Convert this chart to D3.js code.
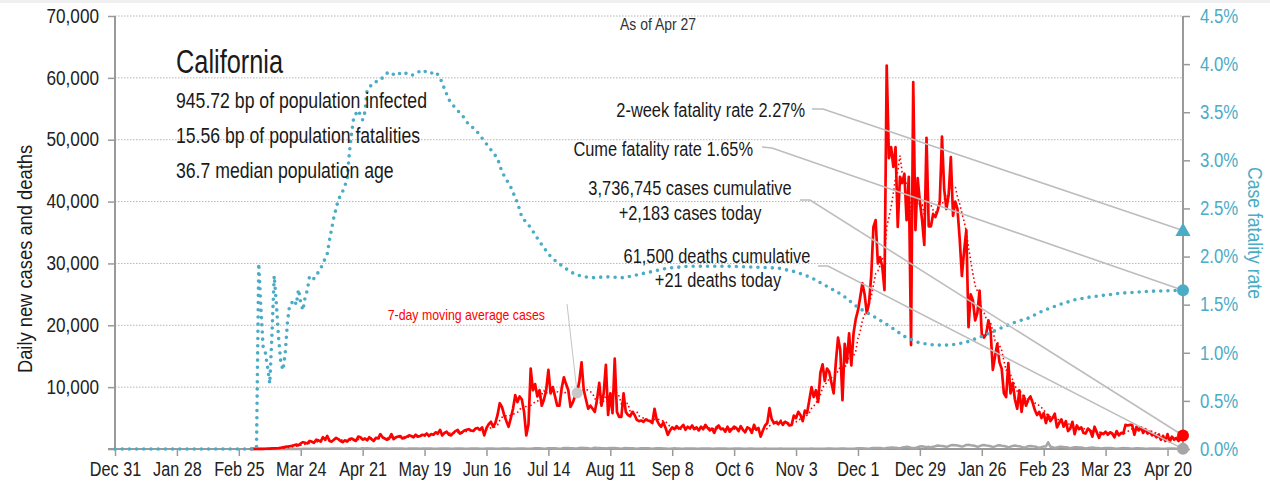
<!DOCTYPE html>
<html>
<head>
<meta charset="utf-8">
<script src="https://cdn.jsdelivr.net/npm/d3@7"></script>
<style>
	body { margin: 0; background: #fff; }
	svg { display: block; font-family: "Liberation Sans", Arial, sans-serif; }
</style>
</head>
<body>
<script>
// chart values
var stateName = 'California';
var statLines = ['945.72 bp of population infected', '15.56 bp of population fatalities', '36.7 median population age'];
var asOfLabel = 'As of Apr 27';
var avgLabel = '7-day moving average cases';
var leftTitle = 'Daily new cases and deaths';
var rightTitle = 'Case fatality rate';

var twoWeekRate = 2.27;
var cumeRate = 1.65;
var cumCases = 3736745;
var cumDeaths = 61500;

var caseTicks = [0, 10000, 20000, 30000, 40000, 50000, 60000, 70000];
var rateTicks = [0, 0.5, 1, 1.5, 2, 2.5, 3, 3.5, 4, 4.5];

var casesStart = '2020-03-01';
// daily new cases, one row per week starting Sundays from Mar 1 2020
var casesDaily = [
	3, 10, 20, 15, 30, 20, 25,
	40, 50, 60, 90, 100, 120, 150,
	200, 250, 350, 400, 450, 500, 600,
	700, 600, 900, 1100, 1000, 900, 1300,
	1200, 1000, 1500, 1400, 1200, 1900, 1500,
	2100, 1300, 1200, 1500, 1800, 1600, 1300,
	1100, 1400, 1200, 1600, 1700, 1500, 1300,
	2000, 1900, 1500, 1700, 1400, 1900, 1600,
	1300, 1800, 1700, 2400, 1900, 1700, 1500,
	1700, 2400, 1600, 1900, 2000, 2100, 1700,
	1800, 2000, 2200, 2100, 1900, 2300, 2000,
	2100, 2300, 2200, 2500, 2100, 2400, 2300,
	2700, 2500, 3100, 2200, 2600, 2800, 2300,
	2200, 2600, 2900, 3100, 2500, 2700, 3000,
	3100, 3200, 3000, 2900, 3300, 3400, 3100,
	3500, 2200, 3400, 4000, 4400, 3600, 4200,
	5500, 7400, 6800, 5500, 4500, 3600, 5000,
	6500, 8700, 7600, 8500, 8000, 6000, 2200,
	4000, 13000, 9500, 10500, 8500, 9500, 7000,
	8000, 9500, 12800, 9000, 10000, 8500, 7000,
	7000, 9800, 11600, 10500, 9500, 6800, 7500,
	8500, 9000, 11000, 14000, 9500, 8000, 6500,
	7000, 6500, 6000, 8000, 10700, 7000, 9000,
	13600, 5500, 9000, 5800, 14600, 6000, 5200,
	5200, 9000, 6000, 5500, 5300, 6000, 5500,
	4700, 4500, 4600, 4400, 4800, 4600, 4500,
	4200, 6500, 4700, 4000, 3600, 4300, 3400,
	2300, 3000, 3500, 3200, 3700, 3300, 3500,
	3900, 3100, 3600, 3300, 3800, 3200, 3500,
	3000, 3600, 3200, 3900, 3400, 3000, 3300,
	2600, 3500, 3800, 3200, 3300, 2800, 3600,
	2800, 3200, 3600, 3400, 2900, 3700, 3100,
	2700, 3500, 3300, 2600, 3900, 3100, 3400,
	2000, 3000, 3800, 4200, 6600, 4800, 4200,
	4300, 4000, 4500, 3900, 4400, 4200, 3800,
	3900, 5400, 5000, 6000, 5500, 4500, 6200,
	5800, 7900, 10000, 8400, 9500, 7600, 12300,
	13700, 11000, 13000, 12500, 10700, 9000, 14000,
	18000, 16000, 7900, 17000, 14000, 18700, 13500,
	18700, 21000, 22400, 24500, 26800, 25000, 22000,
	23600, 28000, 35900, 37000, 30000, 31000, 29500,
	25700, 62000, 47000, 48800, 45600, 48800, 35900,
	44000, 43000, 44500, 37000, 44000, 16800, 59300,
	35400, 43800, 40000, 37000, 33000, 50300, 36000,
	36000, 38000, 37500, 38500, 40000, 50500, 42000,
	38800, 41000, 47200, 37700, 40000, 38800, 34000,
	28000, 32000, 35400, 19700, 25000, 24000, 20800,
	22000, 25600, 18600, 18000, 18600, 20800, 19000,
	12800, 15000, 17000, 14000, 13000, 9000, 8400,
	13900, 9000, 10700, 8000, 6500, 9500, 6000,
	8600, 7000, 8000, 8500, 7500, 6300, 5500,
	6000, 5000, 5800, 4200, 5500, 4500, 5000,
	5700, 3500, 4200, 4800, 3600, 4500, 2900,
	3300, 4400, 2400, 3800, 3200, 3500, 2600,
	2500, 3300, 3000, 2000, 3600, 2700, 1800,
	2600, 2400, 2800, 2300, 2700, 2500, 1900,
	2900, 2200, 2600, 2500, 3900, 3800, 3900,
	3900, 2300, 3600, 3000, 3500, 2600, 3200,
	2500, 2800, 2200, 2400, 1900, 2300, 1500,
	2100, 1300, 2400, 1200, 2000, 1500, 1800,
	1300, 1700, 2183
];

// daily new deaths, same days as casesDaily
var deathsDaily = [
	0, 0, 0, 1, 0, 1, 0,
	1, 0, 2, 1, 1, 2, 3,
	3, 5, 6, 8, 5, 7, 10,
	12, 20, 18, 25, 30, 28, 35,
	40, 25, 45, 50, 48, 55, 42,
	40, 60, 70, 75, 90, 85, 70,
	55, 70, 95, 110, 95, 90, 80,
	60, 75, 110, 100, 115, 95, 85,
	55, 70, 95, 80, 90, 85, 70,
	45, 65, 85, 90, 80, 95, 75,
	50, 60, 80, 90, 85, 80, 65,
	45, 70, 80, 90, 85, 75, 60,
	40, 30, 65, 90, 80, 85, 70,
	45, 60, 75, 85, 80, 70, 60,
	35, 55, 70, 75, 80, 65, 50,
	40, 55, 70, 75, 80, 65, 45,
	35, 50, 80, 70, 65, 75, 45,
	30, 55, 85, 90, 95, 70, 30,
	35, 60, 100, 120, 130, 110, 80,
	50, 70, 130, 140, 120, 115, 95,
	60, 90, 150, 160, 155, 140, 110,
	70, 100, 180, 190, 170, 150, 120,
	60, 110, 200, 160, 180, 140, 110,
	70, 120, 170, 150, 160, 140, 100,
	60, 110, 150, 140, 130, 120, 90,
	55, 95, 140, 130, 120, 110, 80,
	50, 90, 130, 110, 110, 100, 70,
	30, 40, 100, 110, 100, 90, 60,
	40, 80, 100, 95, 90, 85, 55,
	35, 70, 90, 85, 80, 75, 50,
	30, 65, 85, 80, 75, 70, 45,
	30, 60, 80, 75, 70, 65, 40,
	25, 55, 70, 65, 60, 60, 40,
	25, 50, 65, 60, 55, 55, 35,
	25, 50, 65, 55, 55, 50, 35,
	25, 50, 60, 55, 50, 45, 30,
	25, 55, 65, 60, 55, 50, 35,
	30, 60, 75, 70, 65, 60, 40,
	35, 70, 90, 85, 60, 50, 55,
	40, 90, 110, 120, 110, 100, 70,
	50, 110, 150, 180, 160, 150, 110,
	80, 160, 220, 250, 230, 220, 150,
	120, 230, 300, 350, 310, 200, 180,
	150, 280, 400, 430, 380, 300, 350,
	250, 380, 450, 560, 520, 500, 450,
	350, 450, 600, 650, 620, 550, 480,
	380, 480, 650, 700, 620, 580, 500,
	350, 450, 600, 650, 580, 520, 450,
	300, 420, 550, 600, 520, 480, 400,
	250, 380, 500, 550, 480, 450, 350,
	200, 300, 450, 500, 430, 400, 300,
	180, 300, 420, 400, 1100, 380, 280,
	150, 250, 350, 380, 330, 300, 230,
	120, 200, 280, 300, 260, 230, 180,
	90, 150, 220, 240, 200, 180, 130,
	70, 120, 170, 180, 160, 140, 100,
	50, 100, 130, 150, 130, 110, 80,
	40, 80, 110, 120, 100, 90, 60,
	35, 70, 90, 100, 90, 80, 50,
	30, 60, 80, 85, 75, 70, 40,
	25, 40, 21
];

// case fatality rate (%), read at these dates
var cfrDates = [
	'2019-12-31', '2020-03-04', '2020-03-05', '2020-03-06', '2020-03-07', '2020-03-08', '2020-03-09',
	'2020-03-10', '2020-03-11', '2020-03-12', '2020-03-13', '2020-03-14', '2020-03-15', '2020-03-16',
	'2020-03-17', '2020-03-18', '2020-03-19', '2020-03-20', '2020-03-21', '2020-03-22', '2020-03-23',
	'2020-03-24', '2020-03-25', '2020-03-26', '2020-03-27', '2020-03-28', '2020-03-29', '2020-03-30',
	'2020-03-31', '2020-04-01', '2020-04-02', '2020-04-03', '2020-04-04', '2020-04-05', '2020-04-06',
	'2020-04-08', '2020-04-10', '2020-04-12', '2020-04-14', '2020-04-15', '2020-04-16', '2020-04-17',
	'2020-04-19', '2020-04-21', '2020-04-22', '2020-04-23', '2020-04-26', '2020-04-29', '2020-05-01',
	'2020-05-03', '2020-05-06', '2020-05-09', '2020-05-13', '2020-05-18', '2020-05-21', '2020-05-24',
	'2020-05-26', '2020-05-27', '2020-05-30', '2020-06-02', '2020-06-05', '2020-06-08', '2020-06-11',
	'2020-06-14', '2020-06-18', '2020-06-21', '2020-06-23', '2020-06-27', '2020-06-30', '2020-07-02',
	'2020-07-06', '2020-07-09', '2020-07-12', '2020-07-15', '2020-07-18', '2020-07-21', '2020-07-24',
	'2020-07-27', '2020-07-30', '2020-08-03', '2020-08-09', '2020-08-17', '2020-08-23', '2020-08-29',
	'2020-09-06', '2020-09-16', '2020-10-01', '2020-10-16', '2020-10-26', '2020-11-03', '2020-11-10',
	'2020-11-17', '2020-11-24', '2020-12-01', '2020-12-08', '2020-12-15', '2020-12-22', '2020-12-29',
	'2021-01-05', '2021-01-12', '2021-01-19', '2021-01-26', '2021-02-02', '2021-02-09', '2021-02-16',
	'2021-02-23', '2021-03-02', '2021-03-09', '2021-03-16', '2021-03-23', '2021-03-30', '2021-04-06',
	'2021-04-13', '2021-04-20', '2021-04-27'
];
var cfrValues = [
	0, 0, 1.93, 1.45, 1.06, 1.00, 0.85,
	0.68, 1.20, 1.80, 1.50, 1.15, 0.90, 0.82,
	1.00, 1.32, 1.50, 1.52, 1.55, 1.50, 1.66,
	1.52, 1.44, 1.58, 1.65, 1.80, 1.78, 1.77,
	1.80, 1.84, 1.88, 1.92, 1.98, 2.03, 2.17,
	2.41, 2.59, 2.68, 2.80, 3.08, 3.28, 3.45,
	3.52, 3.42, 3.50, 3.73, 3.81, 3.83, 3.89,
	3.92, 3.88, 3.92, 3.88, 3.94, 3.90, 3.92,
	3.86, 3.80, 3.63, 3.54, 3.47, 3.37, 3.32,
	3.23, 3.11, 3.02, 2.88, 2.72, 2.56, 2.41,
	2.30, 2.19, 2.09, 2.00, 1.94, 1.89, 1.84,
	1.81, 1.79, 1.78, 1.79, 1.78, 1.81, 1.84,
	1.88, 1.90, 1.90, 1.89, 1.88, 1.84, 1.78,
	1.69, 1.60, 1.47, 1.38, 1.28, 1.17, 1.10,
	1.08, 1.08, 1.11, 1.17, 1.24, 1.31, 1.36,
	1.44, 1.50, 1.55, 1.58, 1.60, 1.62, 1.63,
	1.64, 1.645, 1.65
];

var width = 1270;
var height = 491;
var margin = { 'top': 16, 'bottom': 42, 'left': 115, 'right': 87 };
var blue = '#4bacc6';
var red = '#ff0000';

var parseDay = d3.timeParse('%Y-%m-%d');

// squeeze text horizontally to mimic the condensed face of the original
function squeeze(sel, k) {
	sel.each(function() {
		var len = this.getComputedTextLength();
		d3.select(this).attr('textLength', len * k).attr('lengthAdjust', 'spacingAndGlyphs');
	});
}

var svg = d3.select('body').append('svg')
	.attr('width', width)
	.attr('height', height);

svg.append('rect').attr('x', 0).attr('y', 0).attr('width', width).attr('height', 3).attr('fill', '#efefef');

// building the series
var day0 = parseDay(casesStart);
var cases = casesDaily.map(function(v, i) { return { time: d3.timeDay.offset(day0, i), value: v }; });
var deaths = deathsDaily.map(function(v, i) { return { time: d3.timeDay.offset(day0, i), value: v }; });
var avg = cases.map(function(d, i) {
	var win = casesDaily.slice(Math.max(0, i - 6), i + 1);
	return { time: d.time, value: d3.mean(win) };
});
var cfr = cfrDates.map(function(s, i) { return { time: parseDay(s), value: cfrValues[i] }; });

var startTime = parseDay('2019-12-31');
var endTime = parseDay('2021-04-27');

// scales
var scaleTime = d3.scaleTime()
	.domain([startTime, endTime])
	.range([margin.left, width - margin.right]);
var scaleCases = d3.scaleLinear()
	.domain([0, 70000])
	.range([height - margin.bottom, margin.top]);
var scaleRate = d3.scaleLinear()
	.domain([0, 4.5])
	.range([height - margin.bottom, margin.top]);

var x0 = scaleTime.range()[0], x1 = scaleTime.range()[1];

// dotted grid lines
svg.append('g').selectAll('line')
	.data(caseTicks.filter(function(d) { return d > 0; }))
	.enter().append('line')
	.attr('x1', x0).attr('x2', x1)
	.attr('y1', function(d) { return scaleCases(d); })
	.attr('y2', function(d) { return scaleCases(d); })
	.attr('stroke', '#b4b4b4')
	.attr('stroke-width', 1)
	.attr('stroke-dasharray', '1.5,1.5');

// axes
var dateTicks = d3.timeDay.range(startTime, d3.timeDay.offset(endTime, 1), 28);

var xAxisCall = d3.axisBottom(scaleTime)
	.tickValues(dateTicks)
	.tickFormat(d3.timeFormat('%b %-d'))
	.tickSize(7)
	.tickPadding(6);
var yAxisCall = d3.axisLeft(scaleCases)
	.tickValues(caseTicks)
	.tickFormat(function(d) { return d === 0 ? '' : d3.format(',')(d); })
	.tickSize(7)
	.tickPadding(9);
var rAxisCall = d3.axisRight(scaleRate)
	.tickValues(rateTicks)
	.tickFormat(function(d) { return d.toFixed(1) + '%'; })
	.tickSize(7)
	.tickPadding(10);

var gx = svg.append('g')
	.attr('id', 'x-axis')
	.attr('transform', 'translate(0,' + scaleCases(0) + ')')
	.call(xAxisCall);
var gy = svg.append('g')
	.attr('id', 'y-axis')
	.attr('transform', 'translate(' + x0 + ',0)')
	.call(yAxisCall);
var gr = svg.append('g')
	.attr('id', 'r-axis')
	.attr('transform', 'translate(' + x1 + ',0)')
	.call(rAxisCall);

[gx, gy, gr].forEach(function(g) {
	g.select('.domain').attr('stroke', '#9a9a9a').attr('stroke-width', 2);
	g.selectAll('.tick line').attr('stroke', '#9a9a9a').attr('stroke-width', 1.5);
	g.selectAll('.tick text').style('font-size', '19.5px').style('font-family', '"Liberation Sans", Arial, sans-serif');
});
gx.select('.domain').attr('d', 'M' + (x0 - 7) + ',0H' + x1);
gx.selectAll('.tick text').attr('fill', '#222');
gy.selectAll('.tick text').attr('fill', '#222');
gr.selectAll('.tick text').attr('fill', blue);
gy.select('.domain').attr('d', 'M0,' + scaleCases(70000) + 'V' + scaleCases(0));
gr.select('.domain').attr('d', 'M0,' + scaleRate(4.5) + 'V' + scaleRate(0));
squeeze(gx.selectAll('.tick text'), 0.83);
squeeze(gy.selectAll('.tick text'), 0.88);
squeeze(gr.selectAll('.tick text'), 0.86);

// lines
var caseLine = d3.line()
	.x(function(d) { return scaleTime(d.time); })
	.y(function(d) { return scaleCases(d.value); });
var rateLine = d3.line()
	.x(function(d) { return scaleTime(d.time); })
	.y(function(d) { return scaleRate(d.value); });

svg.append('path').datum(deaths)
	.attr('d', caseLine)
	.attr('fill', 'none')
	.attr('stroke', '#a6a6a6')
	.attr('stroke-width', 2.5)
	.attr('stroke-linejoin', 'round');

svg.append('path').datum(cases)
	.attr('d', caseLine)
	.attr('fill', 'none')
	.attr('stroke', red)
	.attr('stroke-width', 2.7)
	.attr('stroke-linejoin', 'round');

svg.append('path').datum(avg)
	.attr('d', caseLine)
	.attr('fill', 'none')
	.attr('stroke', red)
	.attr('stroke-width', 1.6)
	.attr('stroke-dasharray', '1.6,2.6');

svg.append('path').datum(cfr)
	.attr('d', rateLine)
	.attr('fill', 'none')
	.attr('stroke', blue)
	.attr('stroke-width', 3.6)
	.attr('stroke-linecap', 'round')
	.attr('stroke-dasharray', '0,7.2');

// callout to the moving average
var avgPick = avg.find(function(d) { return +d.time === +parseDay('2020-07-27'); });
svg.append('line')
	.attr('x1', 567).attr('y1', 304)
	.attr('x2', scaleTime(avgPick.time)).attr('y2', scaleCases(avgPick.value))
	.attr('stroke', '#c4c4c4').attr('stroke-width', 1);
svg.append('circle')
	.attr('cx', scaleTime(avgPick.time)).attr('cy', scaleCases(avgPick.value))
	.attr('r', 5.5).attr('fill', '#c8c8c8');

// leader lines from the notes to the end markers
var lastCases = cases[cases.length - 1];
var lastDeaths = deaths[deaths.length - 1];
var leaders = [
	{ from: [812, 109], bend: [823, 109], to: [scaleTime(endTime), scaleRate(twoWeekRate)] },
	{ from: [762, 147], bend: [772, 148], to: [scaleTime(endTime), scaleRate(cumeRate)] },
	{ from: [800, 200], bend: [810, 200], to: [scaleTime(lastCases.time), scaleCases(lastCases.value)] },
	{ from: [818, 266], bend: [828, 266], to: [scaleTime(lastDeaths.time), scaleCases(lastDeaths.value)] }
];
svg.append('g').selectAll('path')
	.data(leaders)
	.enter().append('path')
	.attr('d', function(d) { return 'M' + d.from + 'L' + d.bend + 'L' + d.to; })
	.attr('fill', 'none')
	.attr('stroke', '#bdbdbd')
	.attr('stroke-width', 1.6);

// end markers
svg.append('path')
	.attr('d', d3.symbol(d3.symbolTriangle).size(100))
	.attr('transform', 'translate(' + scaleTime(endTime) + ',' + (scaleRate(twoWeekRate) + 1) + ')')
	.attr('fill', blue);
svg.append('circle').attr('cx', scaleTime(endTime)).attr('cy', scaleRate(cumeRate)).attr('r', 6).attr('fill', blue);
svg.append('circle').attr('cx', scaleTime(lastCases.time)).attr('cy', scaleCases(lastCases.value)).attr('r', 6).attr('fill', red);
svg.append('circle').attr('cx', scaleTime(lastDeaths.time)).attr('cy', scaleCases(lastDeaths.value)).attr('r', 6).attr('fill', '#a6a6a6');

// texts
var txt = svg.append('g').attr('fill', '#1a1a1a');

var title = txt.append('text').attr('x', 176).attr('y', 72.5).style('font-size', '34px').text(stateName);
squeeze(title, 0.745);

statLines.forEach(function(s, i) {
	var t = txt.append('text').attr('x', 176).attr('y', 107.5 + i * 35.2).style('font-size', '21.5px').text(s);
	squeeze(t, 0.82);
});

var asOf = txt.append('text').attr('x', 658).attr('y', 30).attr('text-anchor', 'middle')
	.attr('fill', '#333').style('font-size', '17px').text(asOfLabel);
squeeze(asOf, 0.82);

var notes = [
	{ text: '2-week fatality rate ' + twoWeekRate.toFixed(2) + '%', x: 805, y: 116.5, anchor: 'end' },
	{ text: 'Cume fatality rate ' + cumeRate.toFixed(2) + '%', x: 753, y: 155.5, anchor: 'end' },
	{ text: d3.format(',')(cumCases) + ' cases cumulative', x: 690, y: 195, anchor: 'middle' },
	{ text: '+' + d3.format(',')(lastCases.value) + ' cases today', x: 690, y: 219.5, anchor: 'middle' },
	{ text: d3.format(',')(cumDeaths) + ' deaths cumulative', x: 717, y: 262.7, anchor: 'middle' },
	{ text: '+' + d3.format(',')(lastDeaths.value) + ' deaths today', x: 718, y: 286.5, anchor: 'middle' }
];
notes.forEach(function(n) {
	var t = txt.append('text').attr('x', n.x).attr('y', n.y).attr('text-anchor', n.anchor)
		.style('font-size', '20px').text(n.text);
	squeeze(t, 0.82);
});

var avgText = svg.append('text').attr('x', 545).attr('y', 319.5).attr('text-anchor', 'end')
	.attr('fill', red).style('font-size', '15px').text(avgLabel);
squeeze(avgText, 0.82);

var lt = svg.append('text')
	.attr('transform', 'translate(32,259) rotate(-90)')
	.attr('text-anchor', 'middle')
	.attr('fill', '#1a1a1a')
	.style('font-size', '19.5px')
	.text(leftTitle);
squeeze(lt, 0.94);

var rt = svg.append('text')
	.attr('transform', 'translate(1248,233) rotate(90)')
	.attr('text-anchor', 'middle')
	.attr('fill', blue)
	.style('font-size', '20px')
	.text(rightTitle);
squeeze(rt, 0.88);
</script>
</body>
</html>
